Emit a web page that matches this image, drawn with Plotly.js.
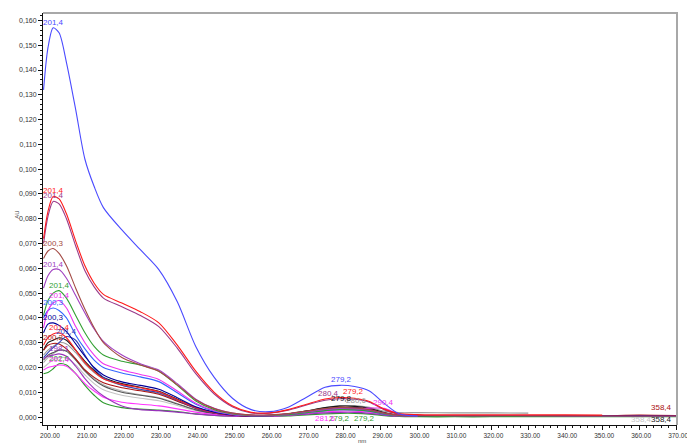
<!DOCTYPE html>
<html>
<head>
<meta charset="utf-8">
<script src="https://cdn.plot.ly/plotly-3.0.1.min.js"></script>
<style>html,body{margin:0;padding:0;background:#fff;}#chart{width:687px;height:445px;}</style>
</head>
<body>
<div id="chart"></div>
<script>
// Wavelength grid (nm)
const wl = [198.8, 200, 201.4, 203, 205, 207.5, 210, 212.5, 215, 220, 225, 230, 235, 240, 245, 250, 255, 260, 265, 270, 275, 279, 283, 287, 291, 295, 300, 310, 320, 330, 340, 350, 360, 370];

// Absorbance series (AU)
const sBlue      = [0.132, 0.149, 0.157, 0.155, 0.143, 0.124, 0.104, 0.093, 0.0845, 0.0755, 0.0675, 0.0595, 0.0465, 0.0285, 0.016, 0.0075, 0.003, 0.0022, 0.004, 0.008, 0.012, 0.0128, 0.0123, 0.0105, 0.0055, 0.0013, 0.0004, null, null, null, null, null, null, null];
const sRed       = [0.072, 0.083, 0.089, 0.088, 0.082, 0.071, 0.061, 0.054, 0.0495, 0.046, 0.0425, 0.038, 0.029, 0.0185, 0.010, 0.0045, 0.0019, 0.0017, 0.003, 0.0052, 0.0073, 0.0079, 0.0076, 0.0063, 0.0032, 0.0014, 0.0010, 0.0009, 0.0009, 0.0009, 0.0009, 0.0008, null, null];
const sDarkPurple= [0.070, 0.081, 0.087, 0.086, 0.080, 0.069, 0.059, 0.0525, 0.048, 0.0445, 0.041, 0.0365, 0.0278, 0.0175, 0.0093, 0.0041, 0.0017, 0.0016, 0.0028, 0.0049, 0.0068, 0.0074, 0.0072, 0.0060, 0.0030, 0.0011, 0.0006, 0.0005, 0.0005, 0.0005, 0.0004, 0.0004, 0.0004, 0.0004];
const sBrown     = [0.064, 0.067, 0.068, 0.066, 0.061, 0.052, 0.0435, 0.036, 0.030, 0.024, 0.021, 0.0185, 0.013, 0.007, 0.0034, 0.0016, 0.0009, 0.0009, 0.0014, 0.0024, 0.0034, 0.0039, 0.0037, 0.003, 0.0016, 0.0007, 0.0004, null, null, null, null, null, null, null];
const sPurple    = [0.052, 0.057, 0.0595, 0.0595, 0.056, 0.049, 0.042, 0.0355, 0.0305, 0.025, 0.0215, 0.019, 0.0135, 0.0072, 0.0035, 0.0016, 0.0008, 0.0008, 0.0013, 0.0022, 0.0031, 0.0035, 0.0034, 0.0028, 0.0015, 0.0006, 0.0004, null, null, null, null, null, null, null];
const sGreen     = [0.041, 0.047, 0.050, 0.051, 0.048, 0.041, 0.034, 0.0285, 0.025, 0.0225, 0.021, 0.0185, 0.0128, 0.0065, 0.003, 0.0013, 0.0006, 0.0006, 0.001, 0.0018, 0.0026, 0.003, 0.0029, 0.0024, 0.0013, 0.0005, 0.0003, 0.0002, 0.0002, 0.0002, 0.0002, 0.0002, 0.0002, 0.0002];
const sMagenta   = [0.036, 0.043, 0.046, 0.047, 0.044, 0.0365, 0.030, 0.025, 0.0215, 0.019, 0.0172, 0.0152, 0.0105, 0.0056, 0.0026, 0.0011, 0.0006, 0.0006, 0.001, 0.0019, 0.0028, 0.0031, 0.0033, 0.0036, 0.0035, 0.0012, 0.0004, null, null, null, null, null, null, null];
const sBlue2     = [0.040, 0.043, 0.044, 0.043, 0.040, 0.033, 0.0275, 0.023, 0.020, 0.0178, 0.0162, 0.0143, 0.0098, 0.0052, 0.0024, 0.0011, 0.0006, 0.0006, 0.001, 0.0018, 0.0026, 0.003, 0.0029, 0.0024, 0.0012, 0.0005, 0.0003, null, null, null, null, null, null, null];
const sNavy      = [0.034, 0.0375, 0.038, 0.037, 0.0345, 0.0295, 0.0245, 0.020, 0.017, 0.0142, 0.0128, 0.0112, 0.0078, 0.0042, 0.002, 0.0009, 0.0005, 0.0006, 0.0011, 0.002, 0.0032, 0.0037, 0.0037, 0.003, 0.0015, 0.0006, 0.0003, 0.0003, 0.0003, 0.0003, 0.0003, 0.0003, 0.0004, 0.0003];
const sRed2      = [0.029, 0.032, 0.0335, 0.034, 0.032, 0.027, 0.022, 0.0183, 0.0155, 0.0132, 0.0118, 0.0102, 0.007, 0.0038, 0.0018, 0.0008, 0.0005, 0.0006, 0.001, 0.0019, 0.0029, 0.0034, 0.0033, 0.0027, 0.0014, 0.0005, 0.0003, null, null, null, null, null, null, null];
const sDarkBlue  = [0.024, 0.026, 0.028, 0.030, 0.0325, 0.031, 0.025, 0.0195, 0.016, 0.0128, 0.0112, 0.0098, 0.0068, 0.0036, 0.0017, 0.0008, 0.0005, 0.0006, 0.0011, 0.0021, 0.0031, 0.0035, 0.0034, 0.0028, 0.0014, 0.0006, 0.0003, null, null, null, null, null, null, null];
const sDarkRed   = [0.027, 0.029, 0.0297, 0.0295, 0.0275, 0.0235, 0.019, 0.016, 0.0138, 0.0118, 0.0106, 0.0092, 0.0064, 0.0035, 0.0017, 0.0008, 0.0005, 0.0006, 0.0011, 0.0021, 0.0033, 0.0039, 0.0038, 0.0031, 0.0016, 0.0007, 0.0005, 0.0004, 0.0004, 0.0004, 0.0004, 0.0005, 0.0008, 0.0006];
const sPurple2   = [0.0235, 0.0245, 0.025, 0.0255, 0.0245, 0.0205, 0.0155, 0.0115, 0.0085, 0.0045, 0.003, 0.0026, 0.002, 0.0012, 0.0007, 0.0004, 0.0003, 0.0004, 0.0007, 0.0012, 0.0017, 0.0019, 0.0019, 0.0015, 0.0008, 0.0003, 0.0002, null, null, null, null, null, null, null];
const sMagenta2  = [0.019, 0.020, 0.0205, 0.021, 0.0205, 0.0175, 0.0135, 0.0105, 0.008, 0.006, 0.0052, 0.0045, 0.0033, 0.002, 0.001, 0.0005, 0.0003, 0.0004, 0.0008, 0.0014, 0.0021, 0.0024, 0.0024, 0.002, 0.001, 0.0004, 0.0002, null, null, null, null, null, null, null];
const sGreen2    = [0.0175, 0.018, 0.0195, 0.0215, 0.021, 0.0175, 0.0128, 0.0088, 0.0058, 0.0038, 0.0032, 0.0028, 0.0022, 0.0013, 0.0007, 0.0004, 0.0003, 0.0003, 0.0005, 0.0009, 0.0013, 0.0015, 0.0015, 0.0012, 0.0006, 0.0002, 0.0001, 0.0001, 0.0001, 0.0001, 0.0001, 0.0001, 0.0001, 0.0001];
const sGray1     = [0.025, 0.027, 0.0285, 0.030, 0.0295, 0.026, 0.0215, 0.018, 0.0155, 0.0128, 0.011, 0.0095, 0.0066, 0.0036, 0.0018, 0.0009, 0.0006, 0.0007, 0.0013, 0.0024, 0.0038, 0.0046, 0.0046, 0.0039, 0.0024, 0.0018, 0.0018, 0.0017, 0.0017, 0.0016, null, null, null, null];
const sGray2     = [0.022, 0.024, 0.0255, 0.027, 0.0268, 0.0235, 0.019, 0.0155, 0.013, 0.0105, 0.009, 0.0078, 0.0055, 0.003, 0.0015, 0.0007, 0.0005, 0.0006, 0.0011, 0.002, 0.003, 0.0036, 0.0036, 0.003, 0.0016, 0.0007, 0.0004, null, null, null, null, null, null, null];
const sGray3     = [0.020, 0.0215, 0.023, 0.024, 0.0238, 0.021, 0.017, 0.0135, 0.011, 0.0088, 0.0076, 0.0066, 0.0047, 0.0026, 0.0013, 0.0006, 0.0004, 0.0005, 0.0009, 0.0016, 0.0025, 0.003, 0.003, 0.0025, 0.0013, 0.0005, 0.0003, 0.0002, 0.0002, 0.0002, 0.0002, 0.0002, 0.0002, 0.0002];
const sBlack1    = [0.027, 0.030, 0.031, 0.032, 0.031, 0.027, 0.0225, 0.0188, 0.016, 0.0135, 0.012, 0.0104, 0.0072, 0.0039, 0.0019, 0.0009, 0.0006, 0.0007, 0.0013, 0.0025, 0.0038, 0.0044, 0.0043, 0.0035, 0.0018, 0.0007, 0.0004, 0.0004, 0.0004, 0.0004, 0.0004, 0.0004, 0.0004, 0.0004];
const sBlack2    = [0.023, 0.025, 0.026, 0.027, 0.0265, 0.023, 0.0185, 0.015, 0.0125, 0.010, 0.0088, 0.0076, 0.0053, 0.0029, 0.0014, 0.0007, 0.0005, 0.0006, 0.0011, 0.0021, 0.0032, 0.0038, 0.0037, 0.003, 0.0015, 0.0006, 0.0003, null, null, null, null, null, null, null];

const seriesList = [sGray3, sGray2, sGray1, sBlack2, sBlack1, sGreen2, sMagenta2, sPurple2, sDarkRed, sDarkBlue, sRed2, sNavy, sBlue2, sMagenta, sGreen, sPurple, sBrown, sDarkPurple, sRed, sBlue];
const colors     = ['#c4c4c4', '#b0b0b0', '#9a9a9a', '#555555', '#1a1a1a', '#2e9a2e', '#ff33ff', '#9933bb', '#aa1111', '#3344bb', '#ff2222', '#000099', '#3366ff', '#ee33ee', '#33a033', '#a040c0', '#a34a44', '#9a3a8a', '#ff1a1a', '#4a4aff'];
const peakLabels = [null, null, null, null, null, '202,6', '201,4', '198,1', '200,2', '201,4', '201,4', '200,3', '200,3', '201,4', '201,4', '201,4', '200,3', '201,4', '201,4', '201,4'];
const bumpLabels = [null, null, '280,6', null, '279,8', '279,2', '281,6', null, null, null, null, null, null, '290,4', '279,2', null, null, '280,4', '279,2', '279,2'];
const tailLabels = ['358,4', null, null, null, '358,4', null, null, null, '358,4', null, null, null, null, null, null, null, null, null, null, null];

// label placement styles (not data)
const bumpStyle = {
  '280,6': {xanchor: 'left', xshift: 4, yshift: 0},
  '279,8': {xanchor: 'center', xshift: 2, yshift: 2},
  '281,6': {xanchor: 'right', xshift: -2, bottom: true},
  '279,2g': {xanchor: 'center', xshift: 0, bottom: true},
  '279,2G': {xanchor: 'left', xshift: 12, bottom: true},
  '290,4': {xanchor: 'left', xshift: 2, yshift: 0},
  '280,4': {xanchor: 'right', xshift: 1, yshift: 0},
  '279,2r': {xanchor: 'left', xshift: 1, yshift: 0},
  '279,2b': {xanchor: 'center', xshift: 2, yshift: 0}
};
const bumpKeys = [null, null, '280,6', null, '279,8', '279,2g', '281,6', null, null, null, null, null, null, '290,4', '279,2G', null, null, '280,4', '279,2r', '279,2b'];
const tailStyle = [{xshift: -22, bottom: true}, null, null, null, {xshift: -2, bottom: true}, null, null, null, {xshift: -2, bottom: false}];

const yTicks = [0, 0.01, 0.02, 0.03, 0.04, 0.05, 0.06, 0.07, 0.08, 0.09, 0.10, 0.11, 0.12, 0.13, 0.14, 0.15, 0.16];
const yTickText = yTicks.map(v => v.toFixed(3).replace('.', ','));

const traces = seriesList.map((ys, i) => ({
  x: wl, y: ys, type: 'scatter', mode: 'lines',
  line: {color: colors[i], width: 1.1, shape: 'spline', smoothing: 0.8},
  connectgaps: false, hoverinfo: 'skip', showlegend: false
}));

function argmaxIn(ys, lo, hi) {
  let best = -1, bv = -Infinity;
  for (let k = 0; k < wl.length; k++) {
    if (wl[k] >= lo && wl[k] <= hi && ys[k] !== null && ys[k] > bv) { bv = ys[k]; best = k; }
  }
  return best;
}
function lastIdx(ys) {
  for (let k = ys.length - 1; k >= 0; k--) if (ys[k] !== null) return k;
  return -1;
}

const annotations = [];
seriesList.forEach((ys, i) => {
  const f = {family: 'Liberation Sans, Arial, sans-serif', size: 8, color: colors[i]};
  if (peakLabels[i]) {
    const k = argmaxIn(ys, 198, 215);
    annotations.push({x: wl[k], y: ys[k], text: peakLabels[i], showarrow: false, xanchor: 'center', yanchor: 'bottom', yshift: -1, font: f});
  }
  if (bumpLabels[i]) {
    const k = argmaxIn(ys, 262, 300);
    const st = bumpStyle[bumpKeys[i]];
    if (st.bottom) {
      annotations.push({x: wl[k], y: 0, text: bumpLabels[i], showarrow: false, xanchor: st.xanchor, xshift: st.xshift, yanchor: 'middle', yshift: -1, font: f});
    } else {
      annotations.push({x: wl[k], y: ys[k], text: bumpLabels[i], showarrow: false, xanchor: st.xanchor, xshift: st.xshift, yanchor: 'bottom', yshift: st.yshift - 1, font: f});
    }
  }
  if (tailLabels[i]) {
    const k = lastIdx(ys);
    const st = tailStyle[i];
    annotations.push({x: wl[k], y: ys[k], text: tailLabels[i], showarrow: false, xanchor: 'right', xshift: st.xshift,
      yanchor: st.bottom ? 'middle' : 'bottom', yshift: st.bottom ? -3 : 2, font: f});
  }
});

annotations.push({xref: 'paper', yref: 'paper', x: -0.049, y: 0.51, text: 'AU', textangle: -90, showarrow: false, font: {family: 'Liberation Sans, Arial, sans-serif', size: 6, color: '#444'}});
annotations.push({xref: 'paper', yref: 'paper', x: 0.503, y: -0.039, text: 'nm', showarrow: false, yanchor: 'middle', font: {family: 'Liberation Sans, Arial, sans-serif', size: 6, color: '#444'}});

const tickFont = {family: 'Liberation Sans, Arial, sans-serif', size: 7, color: '#333'};

const layout = {
  width: 687, height: 445,
  margin: {l: 43, r: 10, t: 13, b: 20, pad: 0},
  paper_bgcolor: '#ffffff', plot_bgcolor: '#ffffff',
  showlegend: false,
  xaxis: {
    range: [198.65, 370.25], showgrid: false, zeroline: false,
    showline: true, linecolor: '#111', linewidth: 1,
    ticks: 'outside', ticklen: 4, tickcolor: '#111', tickwidth: 1,
    tickvals: [200, 210, 220, 230, 240, 250, 260, 270, 280, 290, 300, 310, 320, 330, 340, 350, 360, 370],
    tickformat: '.2f', tickfont: {family: 'Liberation Sans, Arial, sans-serif', size: 6.5, color: '#333'},
    ticklabelshift: 2, ticklabeloverflow: 'allow',
    minor: {dtick: 2, ticks: 'outside', ticklen: 2, tickcolor: '#111', showgrid: false}
  },
  yaxis: {
    range: [-0.0032, 0.163], showgrid: false, zeroline: false,
    showline: true, linecolor: '#111', linewidth: 1,
    ticks: 'outside', ticklen: 4, tickcolor: '#111', tickwidth: 1,
    tickvals: yTicks, ticktext: yTickText, tickfont: tickFont,
    minor: {dtick: 0.002, ticks: 'outside', ticklen: 2, tickcolor: '#111', showgrid: false}
  },
  shapes: [{type: 'path', xref: 'paper', yref: 'paper', path: 'M 0 1 L 1 1 L 1 0', line: {color: '#a8a8a8', width: 2}}],
  annotations: annotations
};

Plotly.newPlot('chart', traces, layout, {staticPlot: true, displayModeBar: false});
</script>
</body>
</html>
